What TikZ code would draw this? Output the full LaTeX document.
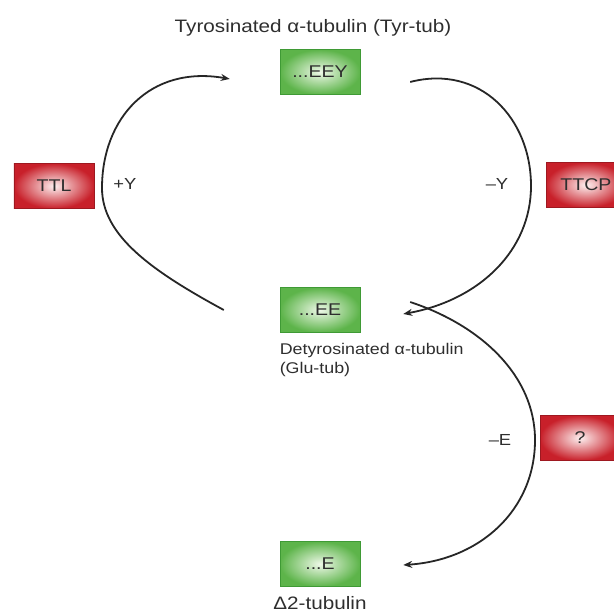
\documentclass[tikz,border=0pt]{standalone}
\usepackage{fontspec}
\setmainfont{Liberation Sans}[FakeStretch=1.15]
\usepackage{tikz}
\usetikzlibrary{arrows.meta}
\definecolor{txtgray}{HTML}{2E2E2E}
\definecolor{boxgreen}{HTML}{5DB44A}
\definecolor{boxgreenin}{HTML}{EEF8E8}
\definecolor{boxgreenrim}{HTML}{3F9A35}
\definecolor{boxred}{HTML}{C8202A}
\definecolor{boxredin}{HTML}{FDF0F0}
\definecolor{boxredrim}{HTML}{9E1820}
\tikzstyle{seqbox} = [draw=boxgreenrim,line width=0.8bp,inner color=boxgreenin,outer color=boxgreen,
    minimum width=80bp,minimum height=45bp,inner sep=0pt,font=\fontsize{17bp}{19bp}\selectfont,text=txtgray]
\tikzstyle{enzbox} = [draw=boxredrim,line width=0.8bp,inner color=boxredin,outer color=boxred,
    minimum width=80bp,minimum height=45bp,inner sep=0pt,font=\fontsize{17bp}{19bp}\selectfont,text=txtgray]
\tikzstyle{formlabel} = [font=\fontsize{18bp}{20bp}\selectfont,text=txtgray,inner sep=0pt]
\tikzstyle{steplabel} = [font=\fontsize{16bp}{18bp}\selectfont,text=txtgray,inner sep=0pt]
\tikzstyle{cyc} = [line width=1.8bp,draw=black!85,-{Stealth[length=9bp,width=7bp]}]

\begin{document}
\begin{tikzpicture}[x=1bp,y=-1bp]
    \useasboundingbox (0,0) rectangle (614,616);

	% tubulin forms
	\node(eey) at (320,72) [seqbox] {...EEY};
	\node(ee) at (320,310) [seqbox] {...EE};
	\node(e) at (320,564) [seqbox] {...E};

	\node(tyrlabel) at (313,28) [formlabel] {Tyrosinated α-tubulin (Tyr-tub)};
	\node(glulabel) [formlabel,anchor=north west,align=left,font=\fontsize{15.5bp}{19bp}\selectfont]
	    at ([yshift=-10bp]ee.south west) {Detyrosinated α-tubulin\\(Glu-tub)};
	\node(deltalabel) [formlabel,anchor=north] at ([yshift=-9bp]e.south) {Δ2-tubulin};

	% enzymes
	\node(ttl) at (54,186) [enzbox] {TTL};
	\node(ttcp) at (586,185) [enzbox] {TTCP};
	\node(unk) at (580,438) [enzbox] {?};

	% cycle
	\draw[cyc] ([xshift=-56]ee.west) .. controls (150,270) and (102,235) .. (102,188)
	    .. controls (102,118) and (150,65) .. ([xshift=-50,yshift=-7]eey.west);
	\draw[cyc] ([xshift=50,yshift=-10]eey.east) .. controls (480,64) and (531,118) .. (531,186)
	    .. controls (531,250) and (480,300) .. ([xshift=43,yshift=-4]ee.east);
	\draw[cyc] ([xshift=50,yshift=8]ee.east) .. controls (480,325) and (535,375) .. (535,440)
	    .. controls (535,510) and (480,560) .. ([xshift=43,yshift=-1]e.east);

	\node(plusy) at (125,184) [steplabel] {+Y};
	\node(minusy) at (497,184) [steplabel] {–Y};
	\node(minuse) at (500,440) [steplabel] {–E};
\end{tikzpicture}
\end{document}
